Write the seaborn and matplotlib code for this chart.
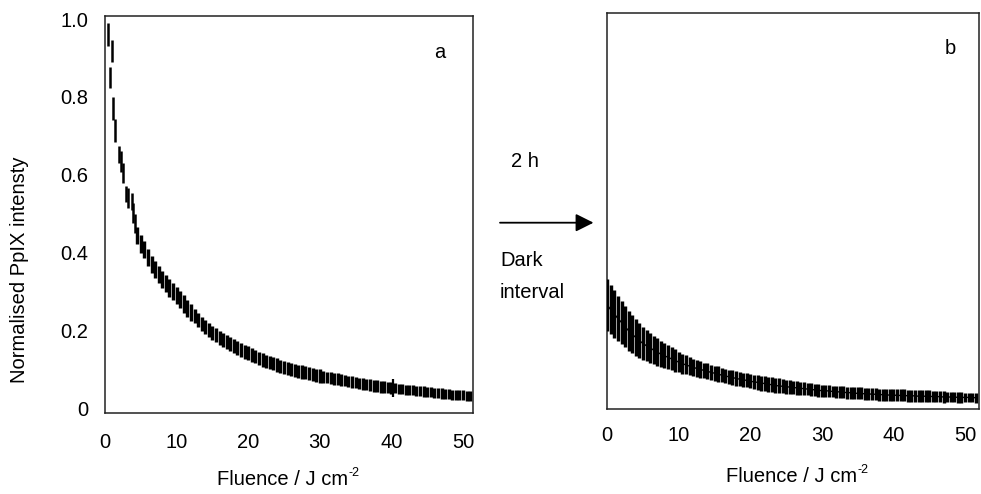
import numpy as np
import pandas as pd
import matplotlib
matplotlib.use("Agg")
import matplotlib.pyplot as plt
import seaborn as sns

# ---------------- data ----------------
# panel a: sparse early measurements (x, low, high)
a_early_x = [0.42, 0.94, 0.74, 1.08, 1.44, 1.96, 2.23, 2.51, 2.93, 3.17, 3.81, 3.95, 4.2]
a_early_lo = [0.931, 0.891, 0.823, 0.741, 0.685, 0.630, 0.608, 0.580, 0.531, 0.515, 0.510, 0.477, 0.451]
a_early_hi = [0.990, 0.947, 0.877, 0.800, 0.743, 0.674, 0.660, 0.631, 0.570, 0.566, 0.553, 0.528, 0.500]

# panel a: dense measurements (mean +- err)
a_x = [4.5, 5.0, 5.5, 6.0, 6.5, 7.0, 7.5, 8.0, 8.5, 9.0,
       9.5, 10.0, 10.5, 11.0, 11.5, 12.0, 12.5, 13.0, 13.5, 14.0,
       14.5, 15.0, 15.5, 16.0, 16.5, 17.0, 17.5, 18.0, 18.5, 19.0,
       19.5, 20.0, 20.5, 21.0, 21.5, 22.0, 22.5, 23.0, 23.5, 24.0,
       24.5, 25.0, 25.5, 26.0, 26.5, 27.0, 27.5, 28.0, 28.5, 29.0,
       29.5, 30.0, 30.5, 31.0, 31.5, 32.0, 32.5, 33.0, 33.5, 34.0,
       34.5, 35.0, 35.5, 36.0, 36.5, 37.0, 37.5, 38.0, 38.5, 39.0,
       39.5, 40.0, 40.5, 41.0, 41.5, 42.0, 42.5, 43.0, 43.5, 44.0,
       44.5, 45.0, 45.5, 46.0, 46.5, 47.0, 47.5, 48.0, 48.5, 49.0,
       49.5, 50.0, 50.5, 51.0]
a_mean = [0.445, 0.422, 0.407, 0.388, 0.370, 0.356, 0.343, 0.331, 0.320, 0.309,
          0.299, 0.289, 0.279, 0.268, 0.257, 0.246, 0.236, 0.226, 0.217, 0.209,
          0.201, 0.194, 0.187, 0.180, 0.175, 0.170, 0.165, 0.160, 0.155, 0.150,
          0.145, 0.141, 0.137, 0.133, 0.128, 0.124, 0.120, 0.117, 0.114, 0.111,
          0.108, 0.105, 0.102, 0.100, 0.097, 0.095, 0.093, 0.091, 0.089, 0.087,
          0.085, 0.083, 0.081, 0.079, 0.078, 0.076, 0.075, 0.073, 0.071, 0.069,
          0.068, 0.066, 0.064, 0.062, 0.061, 0.059, 0.058, 0.057, 0.055, 0.054,
          0.053, 0.052, 0.051, 0.050, 0.049, 0.048, 0.047, 0.046, 0.045, 0.044,
          0.043, 0.042, 0.041, 0.040, 0.039, 0.038, 0.037, 0.036, 0.035, 0.034,
          0.034, 0.033, 0.032, 0.031]
a_err = ([0.022] * 16 + [0.018] * 16 + [0.017] * 20 + [0.015] * 20 + [0.013] * 22)

# panel a: single outlier bar near 40 J cm-2
a_spike_x = [40.2]
a_spike_lo = [0.030]
a_spike_hi = [0.075]

# panel b: measurements after 2 h dark interval (mean +- err)
b_x = [0.0, 0.5, 1.0, 1.5, 2.0, 2.5, 3.0, 3.5, 4.0, 4.5,
       5.0, 5.5, 6.0, 6.5, 7.0, 7.5, 8.0, 8.5, 9.0, 9.5,
       10.0, 10.5, 11.0, 11.5, 12.0, 12.5, 13.0, 13.5, 14.0, 14.5,
       15.0, 15.5, 16.0, 16.5, 17.0, 17.5, 18.0, 18.5, 19.0, 19.5,
       20.0, 20.5, 21.0, 21.5, 22.0, 22.5, 23.0, 23.5, 24.0, 24.5,
       25.0, 25.5, 26.0, 26.5, 27.0, 27.5, 28.0, 28.5, 29.0, 29.5,
       30.0, 30.5, 31.0, 31.5, 32.0, 32.5, 33.0, 33.5, 34.0, 34.5,
       35.0, 35.5, 36.0, 36.5, 37.0, 37.5, 38.0, 38.5, 39.0, 39.5,
       40.0, 40.5, 41.0, 41.5, 42.0, 42.5, 43.0, 43.5, 44.0, 44.5,
       45.0, 45.5, 46.0, 46.5, 47.0, 47.5, 48.0, 48.5, 49.0, 49.5,
       50.0, 50.5, 51.0, 51.5]
b_mean = [0.263, 0.251, 0.240, 0.229, 0.219, 0.208, 0.198, 0.189, 0.181, 0.173,
          0.166, 0.160, 0.155, 0.149, 0.144, 0.139, 0.135, 0.131, 0.127, 0.123,
          0.119, 0.115, 0.112, 0.109, 0.106, 0.103, 0.101, 0.098, 0.096, 0.093,
          0.091, 0.089, 0.086, 0.084, 0.082, 0.080, 0.078, 0.076, 0.074, 0.073,
          0.071, 0.069, 0.068, 0.066, 0.065, 0.063, 0.062, 0.060, 0.059, 0.058,
          0.057, 0.056, 0.055, 0.054, 0.053, 0.052, 0.051, 0.050, 0.049, 0.048,
          0.047, 0.047, 0.046, 0.045, 0.044, 0.044, 0.043, 0.042, 0.042, 0.041,
          0.040, 0.040, 0.039, 0.039, 0.038, 0.038, 0.037, 0.037, 0.036, 0.036,
          0.036, 0.035, 0.035, 0.035, 0.034, 0.034, 0.034, 0.033, 0.033, 0.033,
          0.033, 0.032, 0.032, 0.032, 0.031, 0.031, 0.031, 0.031, 0.030, 0.030,
          0.030, 0.030, 0.030, 0.029]
b_err = [0.065, 0.062, 0.060, 0.057, 0.055, 0.052, 0.050, 0.048, 0.046, 0.044,
         0.041, 0.039, 0.038, 0.036, 0.035, 0.033, 0.032, 0.030, 0.029, 0.028,
         0.026, 0.025, 0.024, 0.023, 0.022, 0.021, 0.021, 0.020, 0.020, 0.019,
         0.019, 0.019, 0.018, 0.018, 0.018, 0.018, 0.018, 0.018, 0.018, 0.018,
         0.018, 0.018, 0.019, 0.019, 0.019, 0.019, 0.019, 0.019, 0.019, 0.018,
         0.018, 0.018, 0.017, 0.017, 0.017, 0.016, 0.016, 0.016, 0.016, 0.016,
         0.015, 0.015, 0.015, 0.015, 0.015, 0.015, 0.015, 0.015, 0.015, 0.015,
         0.015, 0.015, 0.015, 0.015, 0.015, 0.015, 0.015, 0.015, 0.015, 0.015,
         0.015, 0.015, 0.015, 0.015, 0.015, 0.015, 0.015, 0.015, 0.015, 0.015,
         0.015, 0.014, 0.014, 0.014, 0.014, 0.013, 0.013, 0.013, 0.013, 0.013,
         0.012, 0.012, 0.012, 0.012]

x_ticks = [0, 10, 20, 30, 40, 50]
y_ticks = [0, 0.2, 0.4, 0.6, 0.8, 1.0]
y_ticklabels = ["0", "0.2", "0.4", "0.6", "0.8", "1.0"]

# ---------------- styling ----------------
sns.set_theme(style="white")
plt.rcParams["font.family"] = ["Liberation Sans", "DejaVu Sans"]
plt.rcParams["text.color"] = "black"
plt.rcParams["xtick.color"] = "black"
plt.rcParams["ytick.color"] = "black"
FS = 14.5

W, H = 981, 494
fig = plt.figure(figsize=(W / 100, H / 100), dpi=100)

def box(l, t, r, b):
    return [l / W, 1 - b / H, (r - l) / W, (b - t) / H]

ax1 = fig.add_axes(box(105, 16, 472.7, 413.3))
ax2 = fig.add_axes(box(606.5, 12.7, 979, 409.3))

BAR_LW = 2.45

# panel a
df_a = pd.DataFrame({"x": a_x, "mean": a_mean, "err": a_err})
ax1.vlines(a_early_x, a_early_lo, a_early_hi, color="black", lw=1.8)
ax1.errorbar(df_a["x"], df_a["mean"], yerr=df_a["err"], fmt="none",
             ecolor="black", elinewidth=BAR_LW, capsize=0, zorder=3)
ax1.vlines(a_spike_x, a_spike_lo, a_spike_hi, color="black", lw=1.6)

# panel b (mean line under the bars, visible only through the gaps)
df_b = pd.DataFrame({"x": b_x, "mean": b_mean, "err": b_err})
sns.lineplot(data=df_b, x="x", y="mean", ax=ax2, color="black", lw=1.0, zorder=1)
ax2.errorbar(df_b["x"], df_b["mean"], yerr=df_b["err"], fmt="none",
             ecolor="black", elinewidth=BAR_LW, capsize=0, zorder=3)

for ax in (ax1, ax2):
    for s in ax.spines.values():
        s.set_visible(True)
        s.set_color("#222222")
        s.set_linewidth(1.1)
    ax.set_xlabel("")
    ax.set_ylabel("")
    ax.set_xticks(x_ticks)
    ax.set_xticklabels([str(t) for t in x_ticks], fontsize=FS, color="black")
    ax.tick_params(axis="x", length=0)
    ax.tick_params(axis="y", direction="in", length=5, width=1, color="#222222")

ax1.set_xlim(0, 51.35)
ax1.set_ylim(-0.013, 1.008)
ax1.set_yticks(y_ticks)
ax1.set_yticklabels(y_ticklabels, fontsize=FS, color="black")
ax1.tick_params(axis="y", pad=12)
ax1.tick_params(axis="x", pad=14)

ax2.set_xlim(-0.1, 51.95)
ax2.set_ylim(0.012, 1.0)
ax2.set_yticks(y_ticks)
ax2.set_yticklabels([])
ax2.tick_params(axis="x", pad=12)

# labels & annotations
fig.text(20 / W, 1 - 270 / H, "Normalised PpIX intensty", rotation=90,
         ha="center", va="center", fontsize=FS, color="black")

renderer = fig.canvas.get_renderer()

def fluence_label(cx, base_y):
    main = fig.text(0, 1 - base_y / H, "Fluence / J cm", ha="left",
                    va="baseline", fontsize=FS, color="black")
    sup = fig.text(0, 1 - (base_y - 9) / H, "-2", ha="left",
                   va="baseline", fontsize=FS * 0.62, color="black")
    w_main = main.get_window_extent(renderer).width
    w_sup = sup.get_window_extent(renderer).width
    left = cx - (w_main + w_sup) / 2
    main.set_x(left / W)
    sup.set_x((left + w_main + 0.5) / W)

fluence_label(288, 485)
fluence_label(797, 481.7)

fig.text(440 / W, 1 - 52 / H, "a", ha="center", va="center", fontsize=FS, color="black")
fig.text(950 / W, 1 - 48 / H, "b", ha="center", va="center", fontsize=FS, color="black")
fig.text(525 / W, 1 - 161 / H, "2 h", ha="center", va="center", fontsize=FS, color="black")
fig.text(500 / W, 1 - 260.5 / H, "Dark", ha="left", va="center", fontsize=FS, color="black")
fig.text(500 / W, 1 - 293 / H, "interval", ha="left", va="center", fontsize=FS, color="black")
ax1.annotate("", xy=(593.5 / W, 1 - 222.7 / H), xytext=(500 / W, 1 - 222.7 / H),
             xycoords="figure fraction", textcoords="figure fraction",
             arrowprops=dict(arrowstyle="-|>,head_length=0.4,head_width=0.2",
                             color="black", lw=1.3, mutation_scale=27,
                             shrinkA=0, shrinkB=0))

fig.savefig("out.png", dpi=100)
